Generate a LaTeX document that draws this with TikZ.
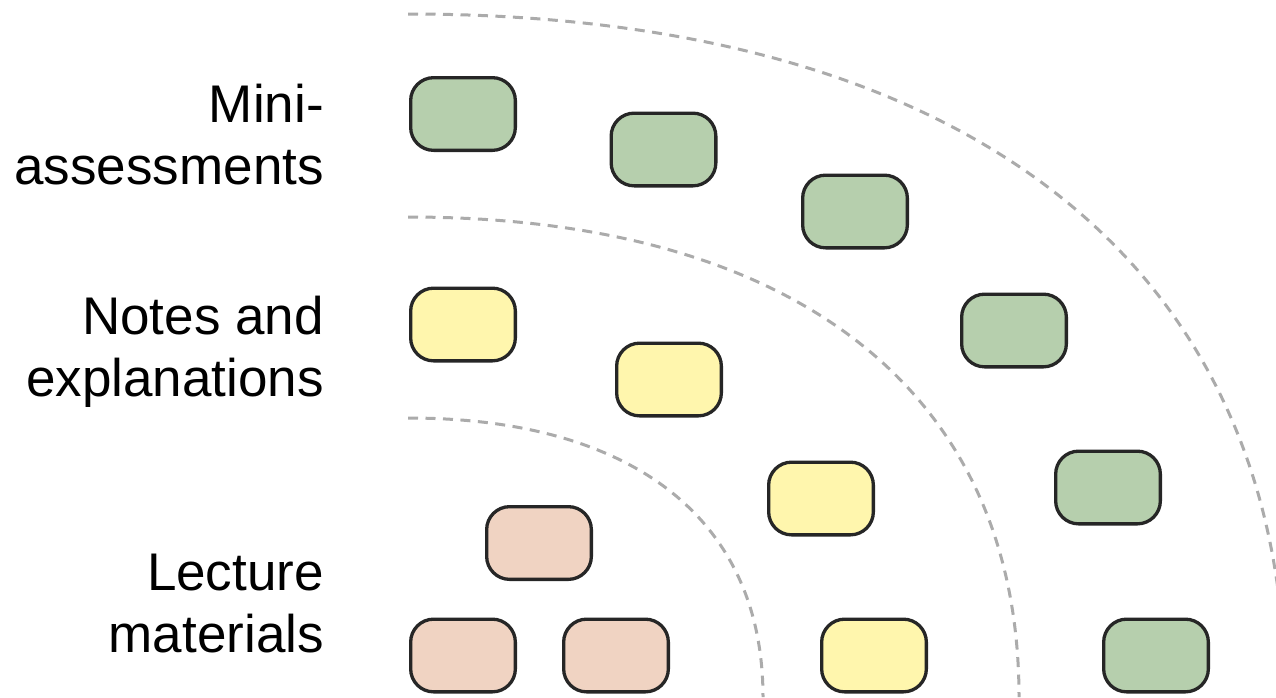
\documentclass[tikz,border=0pt]{standalone}
\usepackage{fontspec}
\setmainfont{Liberation Sans}
\definecolor{boxgreen}{HTML}{B6CFAD}
\definecolor{boxyellow}{HTML}{FFF6AD}
\definecolor{boxpeach}{HTML}{F0D3C2}
\definecolor{boxline}{HTML}{262626}
\definecolor{arcgray}{HTML}{ABABAB}
\tikzset{
  card/.style={draw=boxline, line width=3.3pt, rounded corners=23pt, minimum width=104.7pt, minimum height=72.7pt, inner sep=0pt},
  greencard/.style={card, fill=boxgreen},
  yellowcard/.style={card, fill=boxyellow},
  peachcard/.style={card, fill=boxpeach},
  arcline/.style={draw=arcgray, line width=3pt, dash pattern=on 10pt off 7.5pt},
  lbl/.style={anchor=north east, align=right, inner sep=0pt, font=\fontsize{53pt}{62pt}\selectfont}
}
\begin{document}
\begin{tikzpicture}[x=1pt,y=-1pt]
\useasboundingbox (0,0) rectangle (1276,697);
\begin{scope}
\clip (0,0) rectangle (1276,697);
\draw[arcline] (408,418) .. controls (633.4,418) and (763,519.8) .. (763,697);
\draw[arcline] (408,217) .. controls (796,217) and (1019,392.2) .. (1019,697);
\draw[arcline] (408,14) .. controls (965,14) and (1285,263.3) .. (1285,697);
\end{scope}
% labels
\node[lbl] (mini) at (324,84) {Mini-\\assessments};
\node[lbl] (notes) at (324,296) {Notes and\\explanations};
\node[lbl] (lect) at (324,554) {Lecture\\materials};
% green
\node[greencard] (g1) at (463,114) {};
\node[greencard] (g2) at (663.5,149.5) {};
\node[greencard] (g3) at (855,211.5) {};
\node[greencard] (g4) at (1014,330.5) {};
\node[greencard] (g5) at (1108,487.5) {};
\node[greencard] (g6) at (1156,655.5) {};
% yellow
\node[yellowcard] (y1) at (463,324.5) {};
\node[yellowcard] (y2) at (669,379.5) {};
\node[yellowcard] (y3) at (821,498.5) {};
\node[yellowcard] (y4) at (874,655.5) {};
% peach
\node[peachcard] (p1) at (539,543) {};
\node[peachcard] (p2) at (463,655.5) {};
\node[peachcard] (p3) at (616,655.5) {};
\end{tikzpicture}
\end{document}
